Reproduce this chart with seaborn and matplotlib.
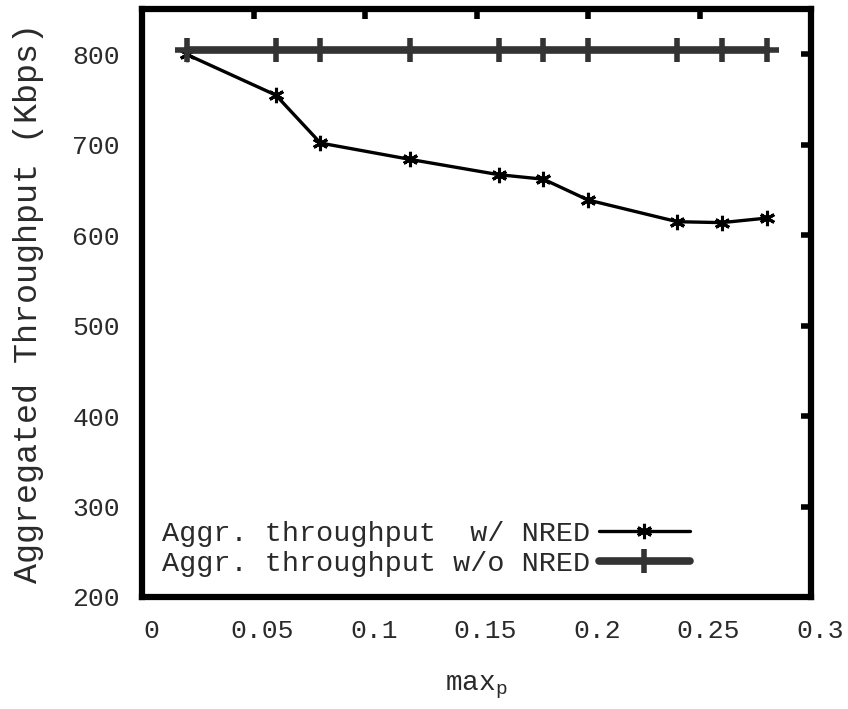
import pandas as pd
import seaborn as sns
import matplotlib.pyplot as plt
import matplotlib.transforms as mtransforms

# 数据
max_p = [0.02, 0.06, 0.08, 0.12, 0.16, 0.18, 0.20, 0.24, 0.26, 0.28]
thr_nred = [800, 755, 702, 684, 667, 662, 639, 615, 614, 619]
thr_no_nred = [805, 805, 805, 805, 805, 805, 805, 805, 805, 805]

x_ticks = [0, 0.05, 0.1, 0.15, 0.2, 0.25, 0.3]
x_tick_labels = ["0", "0.05", "0.1", "0.15", "0.2", "0.25", "0.3"]
y_ticks = [200, 300, 400, 500, 600, 700, 800]

df = pd.DataFrame({"max_p": max_p, "nred": thr_nred, "no_nred": thr_no_nred})

sns.set_style("white")
plt.rcParams["font.family"] = ["Liberation Mono", "DejaVu Sans Mono"]
plt.rcParams["mathtext.fontset"] = "custom"
plt.rcParams["mathtext.rm"] = "Liberation Mono"
plt.rcParams["mathtext.it"] = "Liberation Mono"

txt = "#2a2a2a"
fig = plt.figure(figsize=(8.48, 7.09), dpi=100)
ax = fig.add_axes([0.1675, 0.158, 0.789, 0.829])

sns.lineplot(data=df, x="max_p", y="nred", ax=ax, color="black", linewidth=2.4,
             marker=(6, 2, 0), markersize=11, markeredgewidth=2.2,
             markeredgecolor="black", label="Aggr. throughput  w/ NRED")
sns.lineplot(data=df, x="max_p", y="no_nred", ax=ax, color="#333333", linewidth=5.5,
             marker="+", markersize=17, markeredgewidth=4,
             markeredgecolor="#333333", label="Aggr. throughput w/o NRED")

ax.set_xlim(0, 0.3)
ax.set_ylim(200, 850)
ax.set_xticks(x_ticks)
ax.set_xticklabels(x_tick_labels)
ax.set_yticks(y_ticks)

for s in ax.spines.values():
    s.set_linewidth(4.5)
    s.set_color("black")
ax.tick_params(direction="in", length=7, width=4, top=True, right=True,
               labelsize=19, colors="black", labelcolor=txt, pad=16)

# x 轴刻度文字略向右偏
shift = mtransforms.ScaledTranslation(9 / 100, 0, fig.dpi_scale_trans)
for lab in ax.get_xticklabels():
    lab.set_transform(lab.get_transform() + shift)

ax.set_xlabel(r"max$_\mathrm{p}$", fontsize=20, color=txt, labelpad=22)
ax.set_ylabel("Aggregated Throughput (Kbps)", fontsize=24, color=txt, labelpad=20)

leg = ax.legend(loc="lower left", markerfirst=False, frameon=False,
                handlelength=3.2, fontsize=20.5, borderaxespad=0.3,
                labelspacing=0.15, handletextpad=0.3)
for t in leg.get_texts():
    t.set_color(txt)

fig.savefig("out.png", dpi=100)
